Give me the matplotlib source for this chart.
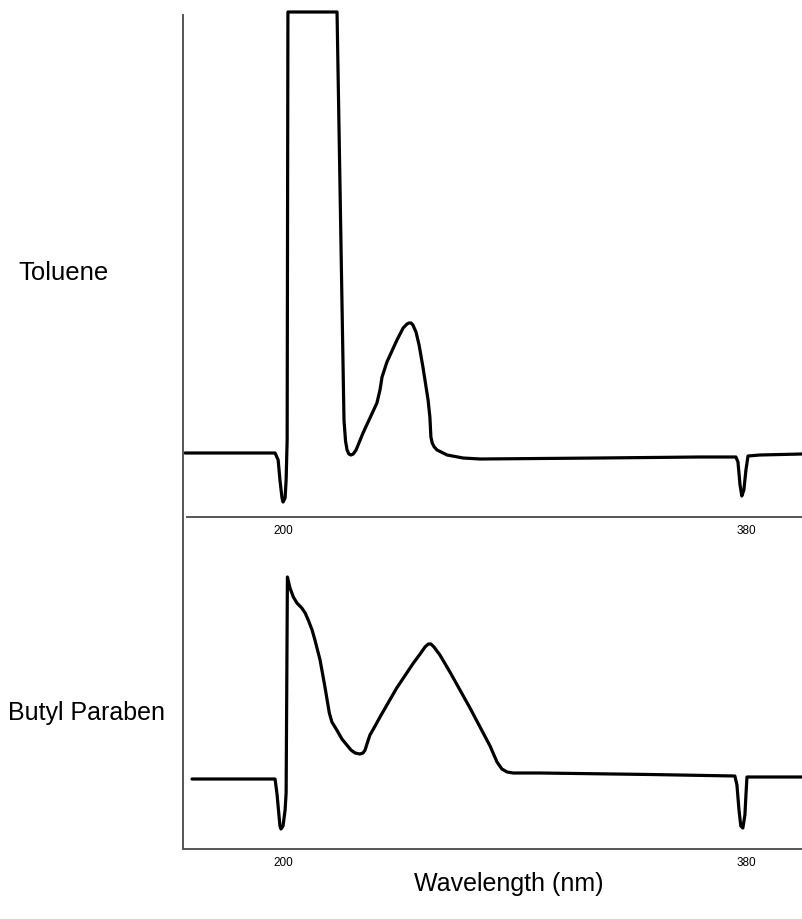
import matplotlib
matplotlib.use("Agg")
import matplotlib.pyplot as plt

plt.rcParams['font.family'] = ['Liberation Sans', 'DejaVu Sans']

# Toluene trace (wavelength nm, absorbance arb. units)
tol_nm = [161.9, 196.9, 198.1, 198.8, 199.6, 200.0, 200.8, 201.2, 201.6, 201.9,
          221.0, 222.9, 223.7, 224.3, 224.9, 225.6, 226.4, 227.3, 228.4, 231.1,
          233.8, 236.5, 237.7, 238.5, 240.4, 244.3, 246.7, 248.2, 249.0, 249.8,
          250.5, 251.7, 252.9, 254.4, 256.4, 257.1, 257.5, 258.0, 258.8, 259.9,
          263.8, 270.0, 276.6, 323.2, 362.1, 376.1, 376.9, 377.7, 378.4, 379.2,
          380.0, 380.8, 385.4, 401.8]
tol_abs = [0.0, 0.0, -0.07, -0.27, -0.45, -0.49, -0.45, -0.27, 0.13, 4.41,
           4.41, 1.53, 0.33, 0.12, 0.03, -0.01, -0.02, -0.01, 0.03, 0.20,
           0.35, 0.50, 0.63, 0.76, 0.91, 1.13, 1.25, 1.29, 1.30, 1.30,
           1.28, 1.21, 1.08, 0.86, 0.53, 0.36, 0.16, 0.10, 0.06, 0.03,
           -0.02, -0.05, -0.06, -0.05, -0.04, -0.04, -0.09, -0.32, -0.43, -0.37,
           -0.17, -0.03, -0.02, -0.01]

# Butyl paraben trace
bp_nm = [164.6, 196.9, 197.7, 198.4, 198.8, 199.2, 200.0, 200.8, 201.2, 201.7,
         202.7, 204.0, 205.4, 207.3, 208.6, 209.8, 211.3, 212.4, 214.4, 216.3,
         218.0, 219.0, 220.9, 222.9, 224.8, 226.4, 228.0, 229.9, 231.1, 231.9,
         233.0, 233.8, 235.8, 237.7, 244.2, 250.7, 253.3, 255.2, 256.5, 257.5,
         258.7, 261.0, 264.9, 268.8, 272.7, 276.6, 280.5, 283.2, 285.1, 287.1,
         289.5, 299.9, 342.7, 375.7, 376.5, 377.3, 378.0, 378.8, 379.6, 380.0,
         380.4, 401.8]
bp_abs = [0.0, 0.0, -0.16, -0.36, -0.47, -0.50, -0.47, -0.31, -0.14, 2.02,
          1.91, 1.82, 1.76, 1.71, 1.66, 1.59, 1.49, 1.39, 1.19, 0.92,
          0.66, 0.57, 0.49, 0.40, 0.34, 0.29, 0.26, 0.25, 0.26, 0.29,
          0.38, 0.44, 0.53, 0.62, 0.91, 1.16, 1.25, 1.32, 1.35, 1.35,
          1.32, 1.24, 1.07, 0.89, 0.71, 0.52, 0.33, 0.17, 0.10, 0.07,
          0.06, 0.06, 0.045, 0.03, -0.06, -0.31, -0.47, -0.49, -0.36, -0.16,
          0.02, 0.02]

tick_vals = [200, 380]
names = ['Toluene', 'Butyl Paraben']

fig = plt.figure(figsize=(8.02, 9.19), dpi=100)
ax1 = fig.add_axes([183/802, 1 - 517/919, 619/802, 502/919])
ax2 = fig.add_axes([183/802, 1 - 849/919, 619/802, 332/919])
# keep the top panel's tick labels above the lower panel
ax1.set_zorder(2)
ax1.patch.set_alpha(0)

xlim = (161.1, 401.8)
for ax, x, y, ylim in [(ax1, tol_nm, tol_abs, (-0.64, 4.38)),
                       (ax2, bp_nm, bp_abs, (-0.70, 2.62))]:
    ax.plot(x, y, color='black', lw=2.3, solid_joinstyle='round',
            solid_capstyle='round', clip_on=False)
    ax.set_xlim(xlim)
    ax.set_ylim(ylim)
    ax.spines['top'].set_visible(False)
    ax.spines['right'].set_visible(False)
    for s in ['left', 'bottom']:
        ax.spines[s].set_color('#555555')
        ax.spines[s].set_linewidth(1.4)
    ax.set_yticks([])
    ax.set_xticks(tick_vals)
    ax.set_xticklabels([str(t) for t in tick_vals], fontsize=8.5)
    ax.tick_params(axis='x', length=0, pad=6)

ax1.spines['bottom'].set_bounds(162.6, 401.8)

fig.text(18/802, 1 - 273/919, names[0], fontsize=18.5, va='center', ha='left')
fig.text(8/802, 1 - 713/919, names[1], fontsize=18, va='center', ha='left')
fig.text(509/802, 1 - 884/919, 'Wavelength (nm)', fontsize=18,
         va='center', ha='center')

fig.savefig('out.png', dpi=100)
